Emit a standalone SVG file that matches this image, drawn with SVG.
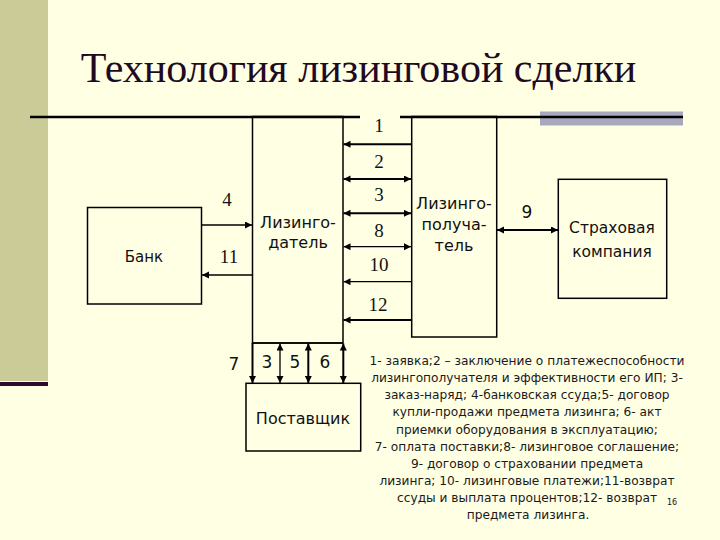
<svg xmlns="http://www.w3.org/2000/svg" width="720" height="540" viewBox="0 0 720 540">
<defs>
<marker id="ah" markerUnits="userSpaceOnUse" markerWidth="8" markerHeight="8" refX="7" refY="3.5" orient="auto-start-reverse">
<path d="M0,0 L7,3.5 L0,7 z" fill="#000"/>
</marker>
<style>
.box{fill:none;stroke:#000;stroke-width:1.5}
.ln{stroke:#000;stroke-width:1.3;fill:none}
.th{stroke:#000;stroke-width:2;fill:none}
.lbl{font-family:"DejaVu Sans",sans-serif;font-size:16px;fill:#111;text-anchor:middle}
.num{font-family:"Liberation Serif",serif;font-size:19px;fill:#111;text-anchor:middle}
.nums{font-family:"DejaVu Sans",sans-serif;font-size:17px;fill:#111;text-anchor:middle}
.leg{font-family:"DejaVu Sans",sans-serif;font-size:12.2px;fill:#1a1a1a;text-anchor:middle}
</style>
</defs>
<rect x="0" y="0" width="720" height="540" fill="#FFFFE4"/>
<rect x="0" y="0" width="48" height="381" fill="#CBCB98"/>
<rect x="0" y="382" width="48" height="4" fill="#2B0A2B"/>
<rect x="540" y="111.5" width="143" height="14" fill="#A9A7BC"/>
<text x="358.5" y="82" font-family="Liberation Serif,serif" font-size="42" fill="#1E0A22" text-anchor="middle">Технология лизинговой сделки</text>
<g id="topline">
<line x1="30" y1="117" x2="360" y2="117" stroke="#000" stroke-width="2.5"/>
<line x1="400" y1="117" x2="683" y2="117" stroke="#000" stroke-width="2.5"/>
</g>
<g id="bank">
<rect class="box" x="87.5" y="207.5" width="114" height="96.5" fill="#FFFFE4"/>
<text class="lbl" x="144" y="262" style="font-size:15px">Банк</text>
</g>
<g id="lessor">
<rect class="box" x="252.5" y="116.5" width="90.5" height="226.5" fill="#FFFFE4"/>
<text class="lbl" x="298" y="228">Лизинго-</text>
<text class="lbl" x="298" y="248">датель</text>
</g>
<g id="lessee">
<rect class="box" x="411.7" y="116.5" width="85" height="220.5" fill="#FFFFE4"/>
<text class="lbl" x="454" y="209">Лизинго-</text>
<text class="lbl" x="454" y="230">получа-</text>
<text class="lbl" x="454" y="251">тель</text>
</g>
<g id="insurance">
<rect class="box" x="558.3" y="179.3" width="108.4" height="119" fill="#FFFFE4"/>
<text class="lbl" x="612" y="233" style="font-size:15.5px">Страховая</text>
<text class="lbl" x="612" y="257" style="font-size:15.5px">компания</text>
</g>
<g id="supplier">
<rect class="box" x="246" y="383.3" width="114.7" height="67.7" fill="#FFFFE4"/>
<text class="lbl" x="303" y="424">Поставщик</text>
</g>
<g id="connectors">
<line class="th" x1="411.7" y1="144.3" x2="343.5" y2="144.3" marker-end="url(#ah)"/>
<line class="th" x1="343.5" y1="179" x2="411" y2="179" marker-start="url(#ah)" marker-end="url(#ah)"/>
<line class="th" x1="343.5" y1="213.3" x2="411" y2="213.3" marker-start="url(#ah)" marker-end="url(#ah)"/>
<line class="ln" x1="343.5" y1="246.7" x2="411" y2="246.7" marker-start="url(#ah)" marker-end="url(#ah)"/>
<line class="ln" x1="411.7" y1="281.7" x2="343.5" y2="281.7" marker-end="url(#ah)"/>
<line class="th" x1="411.7" y1="320" x2="343.5" y2="320" marker-end="url(#ah)"/>
<line class="ln" x1="201.5" y1="225" x2="252" y2="225" marker-end="url(#ah)"/>
<line class="ln" x1="252.5" y1="275" x2="202" y2="275" marker-end="url(#ah)"/>
<line class="th" x1="497" y1="230" x2="558" y2="230" marker-start="url(#ah)" marker-end="url(#ah)"/>
<line class="ln" x1="252.5" y1="343" x2="343" y2="343"/>
<line class="th" x1="252.5" y1="343" x2="252.5" y2="383" marker-end="url(#ah)"/>
<line class="ln" x1="280" y1="343.5" x2="280" y2="383" marker-start="url(#ah)" marker-end="url(#ah)"/>
<line class="th" x1="308.3" y1="343.5" x2="308.3" y2="383" marker-start="url(#ah)" marker-end="url(#ah)"/>
<line class="th" x1="343.3" y1="343.5" x2="343.3" y2="383" marker-start="url(#ah)" marker-end="url(#ah)"/>
</g>
<g id="labels">
<text class="num" x="379" y="132">1</text>
<text class="num" x="379" y="168">2</text>
<text class="num" x="379" y="201">3</text>
<text class="num" x="379" y="237">8</text>
<text class="num" x="379" y="271">10</text>
<text class="num" x="378" y="311">12</text>
<text class="num" x="227" y="206">4</text>
<text class="num" x="229" y="263">11</text>
<text class="nums" x="527" y="218">9</text>
<text class="nums" x="234" y="370">7</text>
<text class="nums" x="267" y="368">3</text>
<text class="nums" x="295" y="368">5</text>
<text class="nums" x="325" y="368">6</text>
</g>
<g id="legend">
<text class="leg" x="527" y="364.5">1- заявка;2 – заключение о платежеспособности</text>
<text class="leg" x="527" y="381.5">лизингополучателя и эффективности его ИП; 3-</text>
<text class="leg" x="527" y="399">заказ-наряд; 4-банковская ссуда;5- договор</text>
<text class="leg" x="527" y="416">купли-продажи предмета лизинга; 6- акт</text>
<text class="leg" x="527" y="433.5">приемки оборудования в эксплуатацию;</text>
<text class="leg" x="527" y="450.5">7- оплата поставки;8- лизинговое соглашение;</text>
<text class="leg" x="527" y="467.5">9- договор о страховании предмета</text>
<text class="leg" x="527" y="484.5">лизинга; 10- лизинговые платежи;11-возврат</text>
<text class="leg" x="527" y="502">ссуды и выплата процентов;12- возврат</text>
<text class="leg" x="528" y="519">предмета лизинга.</text>
<text x="672" y="505" font-family="DejaVu Sans,sans-serif" font-size="8" fill="#111" text-anchor="middle">16</text>
</g>
</svg>
